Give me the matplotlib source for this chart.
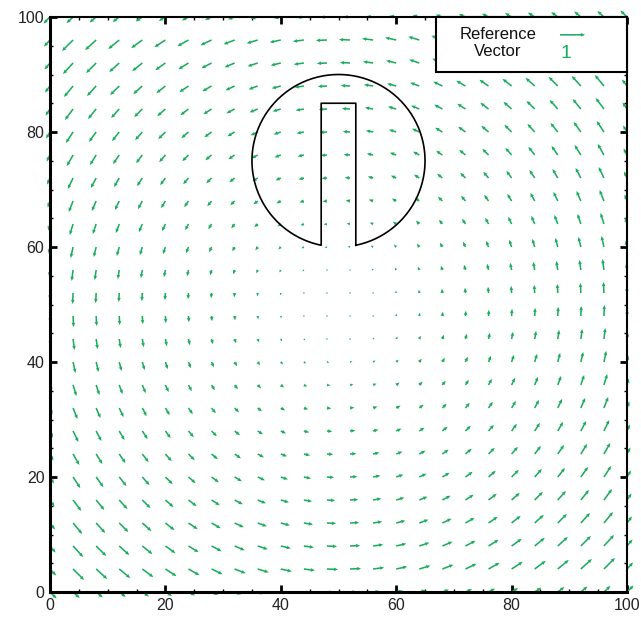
import matplotlib.pyplot as plt
import numpy as np
from matplotlib.patches import Rectangle

plt.rcParams['font.family'] = ['Liberation Sans', 'DejaVu Sans']

# grid of the velocity field (every 4 units across the 100 x 100 box)
grid_x = list(range(0, 101, 4))
grid_y = list(range(0, 101, 4))

# solid body rotation, counter-clockwise about the box centre
rot_center = (50.0, 50.0)
omega = 0.0096
edge_factor = 0.55  # vectors on the walls are drawn shorter

# slotted disk
disk_center = (50.0, 75.0)
disk_radius = 15.0
slot_width = 6.0
slot_top = 85.0

ref_value = 1.0
ref_label = '1'
ticks = [0, 20, 40, 60, 80, 100]

green = '#1aac5c'
arrow_kw = dict(color=green, angles='xy', scale_units='xy', scale=0.231,
                width=0.0027, headwidth=2.4, headlength=2.8,
                headaxislength=2.5)

X, Y = np.meshgrid(grid_x, grid_y)
U = -omega * (Y - rot_center[1])
V = omega * (X - rot_center[0])
on_edge = (X == 0) | (X == 100) | (Y == 0) | (Y == 100)
U = np.where(on_edge, U * edge_factor, U)
V = np.where(on_edge, V * edge_factor, V)

fig = plt.figure(figsize=(6.41, 6.23), dpi=100)
ax = fig.add_axes([50 / 641, 1 - 592 / 623, 577 / 641, 575 / 623])

q = ax.quiver(X, Y, U, V, zorder=2, **arrow_kw)
q.set_clip_on(False)

# slotted disk outline
half = slot_width / 2
dy = np.sqrt(disk_radius ** 2 - half ** 2)
a0 = np.arctan2(-dy, half)
a1 = np.arctan2(-dy, -half) + 2 * np.pi
theta = np.linspace(a0, a1, 300)
px = list(disk_center[0] + disk_radius * np.cos(theta))
py = list(disk_center[1] + disk_radius * np.sin(theta))
px += [disk_center[0] - half, disk_center[0] - half, disk_center[0] + half,
       disk_center[0] + half]
py += [slot_top, slot_top, slot_top, disk_center[1] - dy]
ax.plot(px, py, color='black', lw=1.2, zorder=3)

ax.set_xlim(0, 100)
ax.set_ylim(0, 100)
ax.set_xticks(ticks)
ax.set_yticks(ticks)
ax.set_xticks(np.arange(0, 101, 5), minor=True)
ax.set_yticks(np.arange(0, 101, 5), minor=True)
ax.tick_params(which='both', direction='in', top=True, right=True,
               labelsize=11.5, colors='black', labelcolor='#222222')
ax.tick_params(which='major', length=5, width=2, pad=4)
ax.tick_params(which='minor', length=2.5, width=1)
for side in ['left', 'bottom']:
    ax.spines[side].set_linewidth(2.2)
for side in ['top', 'right']:
    ax.spines[side].set_linewidth(1.5)

# reference vector box
box = Rectangle((66.9, 90.4), 33.1, 9.6, transform=ax.transData,
                facecolor='white', edgecolor='black', lw=1.5, zorder=4,
                clip_on=False)
ax.add_patch(box)
ax.text(77.6, 95.5, 'Reference\nVector', ha='center', va='center',
        fontsize=12, linespacing=1.2, zorder=5, color='#111111')
rq = ax.quiver([88.4], [96.9], [ref_value], [0], zorder=5, **arrow_kw)
rq.set_clip_on(False)
ax.text(89.4, 93.7, ref_label, color=green, ha='center', va='center',
        fontsize=14, zorder=5)

fig.savefig('out.png', dpi=100)
